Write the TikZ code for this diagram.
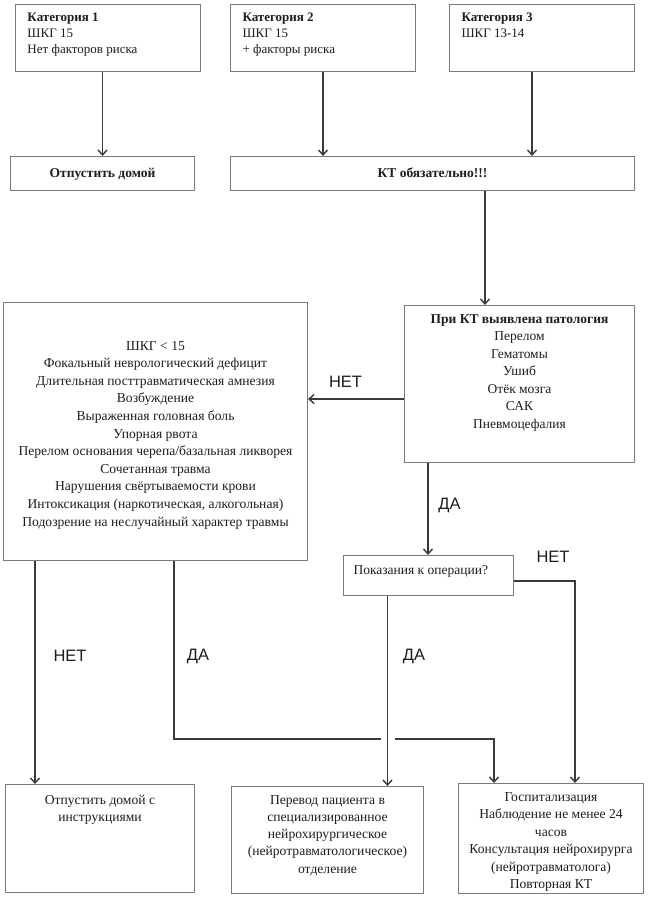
\documentclass[tikz,border=0pt]{standalone}
\usepackage{fontspec}
\setmainfont{Liberation Serif}
\newfontfamily\labfont{Liberation Sans}
\usetikzlibrary{arrows.meta}
\definecolor{boxgray}{HTML}{7A7A7A}
\definecolor{linegray}{HTML}{3A3A3A}
\definecolor{txt}{HTML}{1E1E1E}
% font size, width, height, top pad, baselineskip, alignment, text
\newcommand\inbox[7]{\begin{minipage}[t][#3pt][t]{#2pt}\fontsize{#1}{#5}\selectfont\vspace*{#4pt}#6\rule{0pt}{10pt}#7\end{minipage}}
\newcommand\lft{\raggedright\leftskip=12pt }
\begin{document}
\begin{tikzpicture}[x=1pt,y=-1pt,
  box/.style={draw=boxgray, line width=1pt, inner sep=0pt, anchor=north west, text=txt},
  line/.style={draw=linegray, line width=1.4pt},
  conn/.style={line, -{Straight Barb[length=5pt,width=9pt]}},
  lab/.style={font=\labfont\fontsize{16.5}{18}\selectfont, text=txt, inner sep=0pt, anchor=base}]
\useasboundingbox[fill=white] (0,0) rectangle (650,902);

\node[box] (cat1) at (15,4) {\inbox{13}{185}{67}{7.2}{15.8}{\lft}{\textbf{Категория 1}\\ШКГ 15\\Нет факторов риска}};
\node[box] (cat2) at (230,4) {\inbox{13}{185}{67}{7.2}{15.8}{\lft}{\textbf{Категория 2}\\ШКГ 15\\+ факторы риска}};
\node[box] (cat3) at (449,4) {\inbox{13}{185}{67}{7.2}{15.8}{\lft}{\textbf{Категория 3}\\ШКГ 13-14}};

\node[box] (otp) at (10,156) {\inbox{13.5}{184}{34}{10.5}{15.8}{\centering}{\textbf{Отпустить домой}}};
\node[box] (kt) at (230,156) {\inbox{13.5}{404}{34}{10.5}{15.8}{\centering}{\textbf{КТ обязательно!!!}}};

\node[box] (pat) at (404,305) {\inbox{13.5}{230}{157}{7.5}{17.5}{\centering}{\textbf{При КТ выявлена патология}\\Перелом\\Гематомы\\Ушиб\\Отёк мозга\\САК\\Пневмоцефалия}};

\node[box] (big) at (3,302) {\inbox{13.6}{304}{258}{37.5}{17.6}{\centering}{ШКГ < 15\\Фокальный неврологический дефицит\\Длительная посттравматическая амнезия\\Возбуждение\\Выраженная головная боль\\Упорная рвота\\Перелом основания черепа/базальная ликворея\\Сочетанная травма\\Нарушения свёртываемости крови\\Интоксикация (наркотическая, алкогольная)\\Подозрение на неслучайный характер травмы}};

\node[box] (op) at (343,555) {\inbox{13.5}{170}{40}{8.5}{15.8}{\raggedright\leftskip=10pt }{Показания к операции?}};

\node[box] (b1) at (5,784) {\inbox{13.6}{189}{108}{9.5}{17.6}{\centering}{Отпустить домой с\\инструкциями}};
\node[box] (b2) at (231,786) {\inbox{13.6}{192}{107}{7.5}{17.3}{\centering}{Перевод пациента в\\специализированное\\нейрохирургическое\\(нейротравматологическое)\\отделение}};
\node[box] (b3) at (458,783) {\inbox{13.6}{185}{110}{7.5}{17.5}{\centering}{Госпитализация\\Наблюдение не менее 24\\часов\\Консультация нейрохирурга\\(нейротравматолога)\\Повторная КТ}};

% helper positions
\coordinate (c3x) at (532,0);
\coordinate (ktx) at (485,0);
\coordinate (nety) at (0,399);
\coordinate (dax) at (428,0);
\coordinate (opy) at (0,581);
\coordinate (netx) at (575,0);
\coordinate (opdx) at (387.5,0);
\coordinate (b1x) at (35,0);
\coordinate (dax2) at (174,0);
\coordinate (gapL) at (381,739);
\coordinate (gapR) at (395,739);
\coordinate (b3x) at (494,0);

\draw[conn] (cat1.south -| otp.north) -- (otp.north);
\draw[conn] (cat2.south) -- (cat2.south |- kt.north);
\draw[conn] (cat3.south -| c3x) -- (kt.north -| c3x);
\draw[conn] (kt.south -| ktx) -- (pat.north -| ktx);
\draw[conn] (pat.west |- nety) -- (big.east |- nety);
\draw[conn] (pat.south -| dax) -- (op.north -| dax);
\draw[conn] (op.east |- opy) -| (b3.north -| netx);
\draw[conn] (op.south -| opdx) -- (b2.north -| opdx);
\draw[conn] (big.south -| b1x) -- (b1.north -| b1x);
\draw[line] (big.south -| dax2) |- (gapL);
\draw[conn] (gapR) -| (b3.north -| b3x);

\node[lab] (l1) at (345.5,387) {НЕТ};
\node[lab] (l2) at (449.5,509.5) {ДА};
\node[lab] (l3) at (553,562) {НЕТ};
\node[lab] (l4) at (70,661) {НЕТ};
\node[lab] (l5) at (198,660.5) {ДА};
\node[lab] (l6) at (414,660.5) {ДА};
\end{tikzpicture}
\end{document}
